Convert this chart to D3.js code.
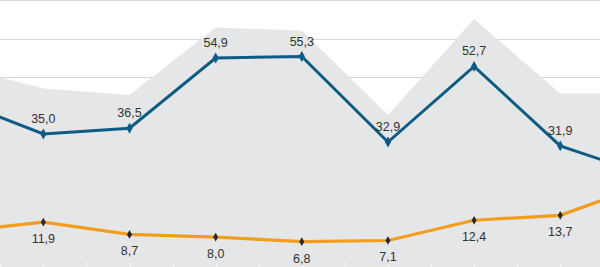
<!DOCTYPE html>
<html>
<head>
<meta charset="utf-8">
<script src="https://cdn.jsdelivr.net/npm/d3@7"></script>
<style>
  html, body { margin: 0; padding: 0; background: #fff; }
  svg { display: block; }
  .lbl { font-family: "Liberation Sans", Arial, sans-serif; font-size: 12.5px; fill: #333; }
</style>
</head>
<body>
<svg id="chart"></svg>
<script>
const width = 600;
const height = 267;

// data (first and last points sit outside the visible crop)
const periods = ['p0', 'p1', 'p2', 'p3', 'p4', 'p5', 'p6', 'p7', 'p8'];
const totalValues = [52.8, 46.9, 45.2, 62.9, 62.1, 40.0, 65.1, 45.6, 45.6];
const blueValues = [43.8, 35.0, 36.5, 54.9, 55.3, 32.9, 52.7, 31.9, 24.3];
const orangeValues = [9.4, 11.9, 8.7, 8.0, 6.8, 7.1, 12.4, 13.7, 21.8];
const gridValues = [50, 60, 70];

const svg = d3.select('#chart')
    .attr('width', width)
    .attr('height', height);

// x: index of period -> pixel, y: value -> pixel
const x = d3.scaleLinear()
    .domain([0, periods.length - 1])
    .range([-42.8, 646.4]);
const y = d3.scaleLinear()
    .domain([0, 70])
    .range([267.6, 0.4]);

const fmt = v => d3.format('.1f')(v).replace('.', ',');

// gridlines (behind the grey area)
svg.selectAll('.grid')
    .data(gridValues)
    .enter()
    .append('line')
    .attr('x1', 0)
    .attr('x2', width)
    .attr('y1', d => Math.round(y(d)) + 0.5)
    .attr('y2', d => Math.round(y(d)) + 0.5)
    .attr('stroke', '#d4d4d4')
    .attr('stroke-width', 1);

// grey total area
const area = d3.area()
    .x((d, i) => x(i))
    .y0(y(0))
    .y1(d => y(d));
svg.append('path')
    .datum(totalValues)
    .attr('d', area)
    .attr('fill', '#e5e6e7');

// small tick marks at the bottom, every half period
const tickIdx = d3.range(0, periods.length - 0.5, 0.5);
svg.selectAll('.tick')
    .data(tickIdx)
    .enter()
    .append('line')
    .attr('x1', d => Math.round(x(d)) + 0.5)
    .attr('x2', d => Math.round(x(d)) + 0.5)
    .attr('y1', height - 5)
    .attr('y2', height)
    .attr('stroke', '#f4f4f4')
    .attr('stroke-width', 1);

const line = d3.line()
    .x((d, i) => x(i))
    .y(d => y(d));

// only the points inside the window get a label
const inView = i => x(i) > 0 && x(i) < width;

function drawSeries(values, color, width, markerColor, markerSize, labelDy) {
    const g = svg.append('g');
    g.append('path')
        .datum(values)
        .attr('d', line)
        .attr('fill', 'none')
        .attr('stroke', color)
        .attr('stroke-width', width)
        .attr('stroke-linejoin', 'miter');
    g.selectAll('.m')
        .data(values)
        .enter()
        .append('path')
        .attr('d', d3.symbol(d3.symbolDiamond, markerSize))
        .attr('transform', (d, i) => `translate(${x(i)},${y(d)})`)
        .attr('fill', markerColor);
    g.selectAll('.lbl')
        .data(values.map((v, i) => ({ v, i })).filter(d => inView(d.i)))
        .enter()
        .append('text')
        .attr('class', 'lbl')
        .attr('x', d => x(d.i))
        .attr('y', d => y(d.v) + labelDy)
        .attr('text-anchor', 'middle')
        .text(d => fmt(d.v));
}

drawSeries(orangeValues, '#f29d1c', 3.2, '#2a2a2a', 22, 21);
drawSeries(blueValues, '#0e5c84', 3, '#0e5c84', 34, -11);
</script>
</body>
</html>
